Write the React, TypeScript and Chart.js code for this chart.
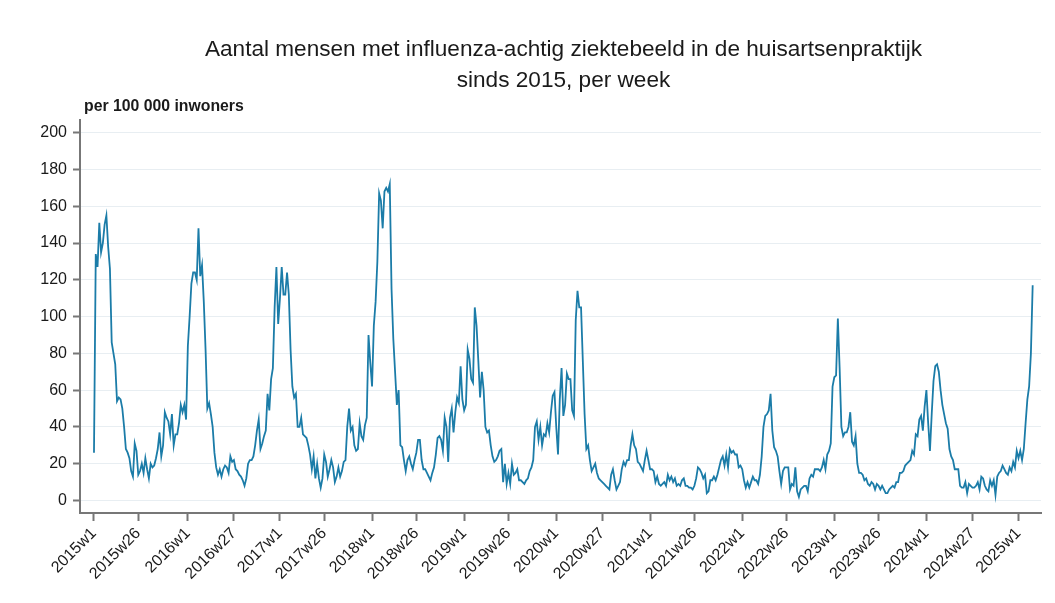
import { useEffect, useRef } from 'react';
import { Chart, registerables } from 'chart.js';

Chart.register(...registerables);

// Weekly values per 100 000 inhabitants
const v2015 = [26, 134, 127, 151, 135, 140, 150, 155, 138, 126, 86, 80, 74, 54, 56, 55, 50, 40, 28, 26, 23, 16, 13, 31, 27, 14, 16, 20, 15, 23, 17, 12, 20, 18, 19, 23, 28, 37, 24, 30, 48, 45, 43, 36, 47, 30, 36, 36, 42, 52, 48, 52, 44];
const v2016 = [84, 100, 118, 124, 124, 120, 148, 122, 128, 108, 82, 50, 53, 47, 40, 26, 18, 14, 17, 13, 17, 19, 18, 15, 24, 21, 22, 17, 16, 14, 13, 11, 8, 12, 20, 22, 22, 24, 30, 38, 44, 28, 31, 35, 38, 58, 49, 66, 72, 105, 127, 96];
const v2017 = [110, 127, 112, 112, 124, 112, 82, 62, 56, 58, 40, 40, 45, 36, 35, 34, 30, 25, 17, 24, 12, 20, 12, 7, 12, 25, 21, 13, 17, 22, 18, 10, 13, 18, 13, 16, 21, 22, 40, 50, 38, 40, 30, 27, 28, 42, 35, 33, 41, 45, 90, 75];
const v2018 = [62, 95, 108, 130, 167, 163, 148, 168, 170, 168, 172, 115, 88, 70, 52, 60, 30, 29, 22, 16, 22, 24, 20, 17, 22, 26, 33, 33, 22, 17, 17, 15, 13, 11, 15, 18, 25, 34, 35, 33, 27, 45, 40, 21, 45, 50, 37, 48, 56, 53, 73, 55];
const v2019 = [49, 52, 82, 77, 66, 64, 105, 95, 76, 56, 70, 60, 40, 37, 38, 30, 24, 21, 22, 24, 27, 28, 10, 20, 9, 15, 9, 20, 14, 15, 17, 11, 11, 10, 9, 11, 12, 16, 18, 22, 40, 43, 33, 40, 30, 36, 35, 42, 37, 48, 57, 59];
const v2020 = [40, 25, 55, 72, 46, 52, 69, 66, 66, 49, 46, 98, 114, 105, 105, 76, 47, 28, 30, 22, 16, 18, 20, 15, 12, 11, 10, 9, 8, 7, 6, 14, 17, 11, 6, 8, 10, 17, 21, 19, 22, 22, 30, 36, 30, 28, 21, 20, 18, 16, 22, 27, 22];
const v2021 = [17, 17, 16, 10, 13, 9, 8, 9, 10, 8, 14, 11, 13, 10, 12, 8, 9, 8, 11, 12, 8, 8, 7, 7, 6, 8, 12, 18, 17, 15, 12, 14, 4, 5, 11, 11, 13, 11, 14, 18, 22, 24, 19, 25, 18, 28, 26, 27, 25, 25, 18, 19];
const v2022 = [17, 11, 7, 10, 7, 10, 13, 11, 11, 9, 14, 24, 40, 46, 47, 49, 58, 38, 29, 27, 24, 16, 9, 16, 18, 18, 18, 6, 9, 8, 18, 5, 2, 6, 7, 8, 8, 5, 12, 14, 13, 17, 17, 17, 16, 18, 22, 17, 25, 27, 31, 62];
const v2023 = [67, 68, 99, 72, 40, 35, 37, 37, 40, 48, 32, 30, 35, 20, 15, 15, 14, 11, 12, 9, 8, 10, 9, 6, 9, 8, 6, 8, 6, 4, 4, 6, 7, 8, 7, 10, 10, 15, 15, 16, 19, 20, 21, 22, 27, 25, 36, 35, 44, 46, 38, 51];
const v2024 = [60, 42, 27, 47, 65, 73, 74, 70, 60, 52, 47, 42, 39, 28, 24, 22, 17, 17, 17, 8, 7, 7, 10, 4, 9, 8, 7, 7, 8, 10, 6, 13, 12, 8, 6, 5, 11, 8, 11, 3, 13, 15, 16, 19, 17, 15, 14, 18, 16, 21, 18, 27];
const v2025 = [23, 27, 22, 28, 42, 55, 62, 80, 117];

const years = [2015, 2016, 2017, 2018, 2019, 2020, 2021, 2022, 2023, 2024, 2025];
const yearValues = [v2015, v2016, v2017, v2018, v2019, v2020, v2021, v2022, v2023, v2024, v2025];

const xTickLabels = ['2015w1', '2015w26', '2016w1', '2016w27', '2017w1', '2017w26', '2018w1', '2018w26', '2019w1', '2019w26', '2020w1', '2020w27', '2021w1', '2021w26', '2022w1', '2022w26', '2023w1', '2023w26', '2024w1', '2024w27', '2025w1'];
const yTickValues = [0, 20, 40, 60, 80, 100, 120, 140, 160, 180, 200];

const titleLines = ['Aantal mensen met influenza-achtig ziektebeeld in de huisartsenpraktijk', 'sinds 2015, per week'];
const unitLabel = 'per 100 000 inwoners';

const FONT = '"Liberation Sans", Arial, Helvetica, sans-serif';

const titlePlugin = {
  id: 'customTitles',
  afterDraw(chart: any) {
    const { ctx, chartArea } = chart;
    ctx.save();
    ctx.fillStyle = '#1a1a1a';
    ctx.font = `22.6px ${FONT}`;
    ctx.textAlign = 'center';
    ctx.textBaseline = 'middle';
    const cx = (chartArea.left + chartArea.right) / 2 + 3;
    ctx.fillText(titleLines[0], cx, 50);
    ctx.fillText(titleLines[1], cx, 81);
    ctx.font = `bold 15.8px ${FONT}`;
    ctx.textAlign = 'left';
    ctx.fillText(unitLabel, chartArea.left + 4, 107);
    ctx.restore();
  },
};

export default function App() {
  const ref = useRef<HTMLCanvasElement>(null);

  useEffect(() => {
    document.body.style.margin = '0';
    const weeks: string[] = [];
    const values: number[] = [];
    years.forEach((yr, k) => {
      yearValues[k].forEach((v, i) => {
        weeks.push(`${yr}w${i + 1}`);
        values.push(v);
      });
    });
    const tickPos = xTickLabels.map((l) => weeks.indexOf(l));

    const chart = new Chart(ref.current as HTMLCanvasElement, {
      type: 'line',
      data: {
        datasets: [
          {
            data: values.map((v, i) => ({ x: i, y: v })),
            borderColor: '#1b7ca8',
            borderWidth: 1.8,
            pointRadius: 0,
            tension: 0,
            fill: false,
          },
        ],
      },
      options: {
        animation: false,
        responsive: false,
        layout: { padding: { top: 120, right: 14, left: 0, bottom: 0 } },
        plugins: {
          legend: { display: false },
          tooltip: { enabled: false },
          title: { display: false },
        },
        scales: {
          x: {
            type: 'linear',
            min: -7.9,
            max: 534.7,
            afterBuildTicks: (s: any) => {
              s.ticks = tickPos.map((v) => ({ value: v }));
            },
            afterFit: (s: any) => {
              s.height = 90;
            },
            ticks: {
              autoSkip: false,
              maxRotation: 45,
              minRotation: 45,
              padding: 3,
              color: '#1a1a1a',
              font: { family: FONT, size: 16 },
              callback: (v: any) => weeks[v as number],
            },
            grid: {
              display: true,
              drawOnChartArea: false,
              drawTicks: true,
              tickLength: 8,
              tickColor: '#777777',
              tickWidth: 2,
            },
            border: { display: true, color: '#777777', width: 2 },
          },
          y: {
            type: 'linear',
            min: -6.8,
            max: 206.9,
            afterBuildTicks: (s: any) => {
              s.ticks = yTickValues.map((v) => ({ value: v }));
            },
            afterFit: (s: any) => {
              s.width = 80;
            },
            ticks: {
              padding: 6,
              color: '#1a1a1a',
              font: { family: FONT, size: 16 },
            },
            grid: {
              color: '#e8eef2',
              lineWidth: 1,
              tickColor: '#777777',
              tickWidth: 2,
              tickLength: 7,
            },
            border: { display: true, color: '#777777', width: 2 },
          },
        },
      },
      plugins: [titlePlugin],
    });
    return () => chart.destroy();
  }, []);

  return (
    <div style={{ width: 1055, height: 603, background: '#ffffff' }}>
      <canvas ref={ref} width={1055} height={603} style={{ display: 'block' }} />
    </div>
  );
}
